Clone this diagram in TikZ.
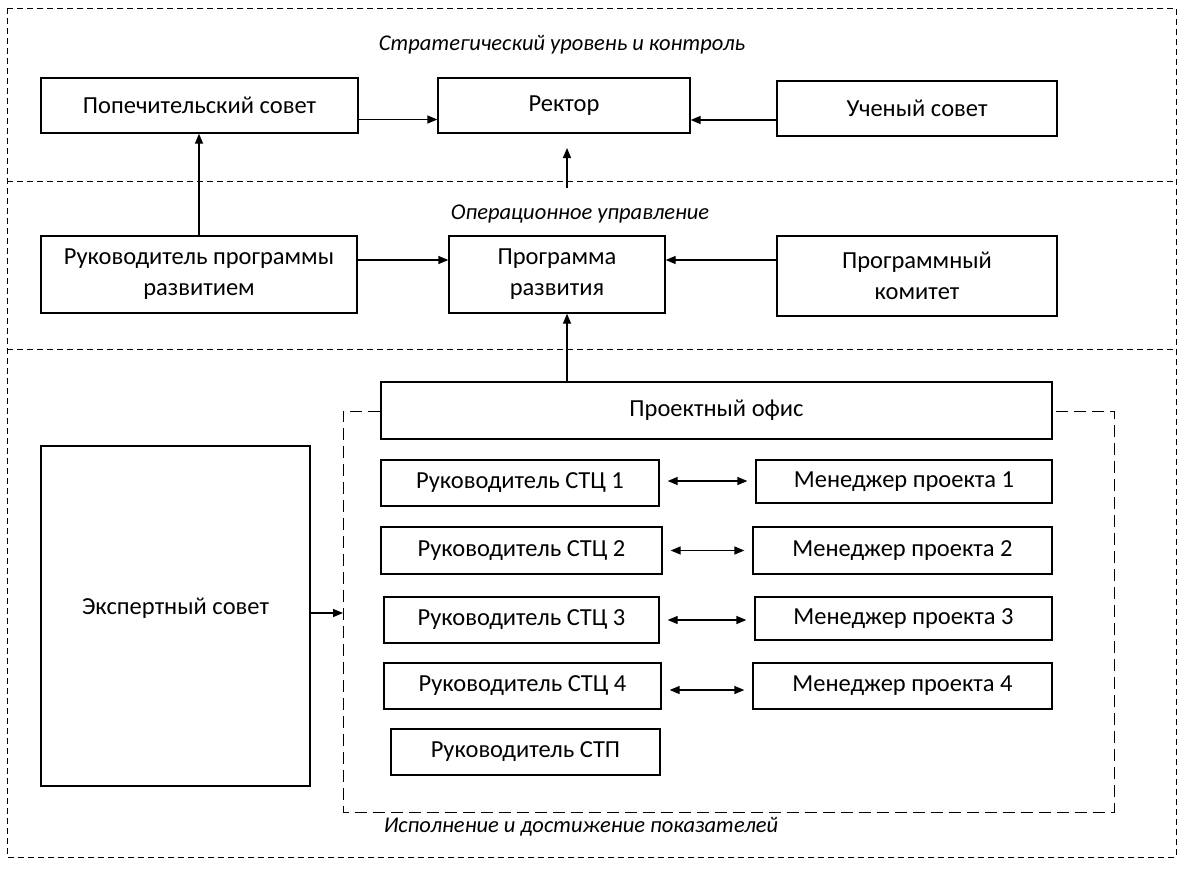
\documentclass[tikz,border=0pt]{standalone}
\usepackage{fontspec}
\setmainfont{Carlito}
\usetikzlibrary{arrows.meta,calc}
\begin{document}
\begin{tikzpicture}[x=1pt,y=-1pt,
  box/.style={draw=black,line width=1.3pt,rectangle,align=center,inner sep=2pt,
    font=\fontsize{24.5}{31}\selectfont},
  ttl/.style={font=\fontsize{22.5}{26}\selectfont\itshape},
  arr/.style={line width=1.3pt,-{Triangle[length=10pt,width=8pt]}},
  darr/.style={line width=1.3pt,{Triangle[length=10pt,width=8pt]}-{Triangle[length=10pt,width=8pt]}},
  sep/.style={line width=1pt,dash pattern=on 6pt off 4pt},
  inner/.style={line width=1pt,dash pattern=on 12pt off 6pt}]
\useasboundingbox (0,0) rectangle (1182,887);
% outer frame and separators
\draw[sep] (7,8) rectangle (1176,857);
\draw[sep] (7,181) -- (1176,181);
\draw[sep] (7,349) -- (1176,349);
% titles
\node[ttl] (t1) at (562,45) {Стратегический уровень и контроль};
\node[ttl] (t2) at (580,214) {Операционное управление};
\node[ttl] (t3) at (581,827) {Исполнение и достижение показателей};
% top level
\node[box,minimum width=317pt,minimum height=55pt] (pop) at (199.5,105.5) {Попечительский совет};
\node[box,minimum width=252pt,minimum height=55pt] (rek) at (564,105.5) {Ректор};
\node[box,minimum width=280pt,minimum height=55pt] (uch) at (917,108.5) {Ученый совет};
% operational level
\node[box,minimum width=316pt,minimum height=77pt] (rukp) at (199,274.5) {Руководитель программы\\развитием};
\node[box,minimum width=216pt,minimum height=77pt] (prog) at (557,274.5) {Программа\\развития};
\node[box,minimum width=280pt,minimum height=80pt] (kom) at (917,276) {Программный\\комитет};
% execution level
\node[box,minimum width=671pt,minimum height=57pt] (off) at (716.5,410.5) {Проектный офис};
\node[box,minimum width=269pt,minimum height=340pt] (exp) at (175.5,616) {Экспертный совет\\[-11pt]};
\node[box,minimum width=278pt,minimum height=46pt] (s1) at (520,483) {Руководитель СТЦ 1};
\node[box,minimum width=296pt,minimum height=43pt] (m1) at (904,481.5) {Менеджер проекта 1};
\node[box,minimum width=281pt,minimum height=47pt] (s2) at (521.5,550.5) {Руководитель СТЦ 2};
\node[box,minimum width=299pt,minimum height=47pt] (m2) at (902.5,550.5) {Менеджер проекта 2};
\node[box,minimum width=275pt,minimum height=46pt] (s3) at (521.5,620) {Руководитель СТЦ 3};
\node[box,minimum width=297pt,minimum height=43pt] (m3) at (903.5,618.5) {Менеджер проекта 3};
\node[box,minimum width=277pt,minimum height=46pt] (s4) at (522.5,686) {Руководитель СТЦ 4};
\node[box,minimum width=299pt,minimum height=46pt] (m4) at (902.5,686) {Менеджер проекта 4};
\node[box,minimum width=269pt,minimum height=46pt] (stp) at (525.5,752) {Руководитель СТП};
% inner dashed frame
\coordinate (ib) at (343,613);
\draw[inner] (off.west |- 0,411) -- (343,411) -- (343,812) -- (1114,812) -- (1114,411) -- (off.east |- 0,411);
% connectors
\coordinate (ax) at (567,0);
\coordinate (fa) at (567,188);
\coordinate (fb) at (567,148);
\draw[arr] ([yshift=-14pt]pop.east) -- ([yshift=-14pt]pop.east -| rek.west);
\draw[arr] ([yshift=-11.5pt]uch.west) -- ([yshift=-11.5pt]uch.west -| rek.east);
\draw[arr] (rukp.north) -- (rukp.north |- pop.south);
\draw[arr] (fa) -- (fb);
\draw[arr] ([yshift=14.5pt]rukp.east) -- ([yshift=14.5pt]rukp.east -| prog.west);
\draw[arr] ([yshift=16pt]kom.west) -- ([yshift=16pt]kom.west -| prog.east);
\draw[arr] (off.north -| ax) -- (prog.south -| ax);
\draw[arr] ([yshift=3pt]exp.east) -- (ib);
\draw[darr,shorten <=8pt,shorten >=8pt] ([yshift=2pt]s1.east) -- ([yshift=2pt]s1.east -| m1.west);
\draw[darr,shorten <=8pt,shorten >=8pt] (s2.east) -- (s2.east -| m2.west);
\draw[darr,shorten <=8pt,shorten >=8pt] (s3.east) -- (s3.east -| m3.west);
\draw[darr,shorten <=8pt,shorten >=8pt] ([yshift=-4pt]s4.east) -- ([yshift=-4pt]s4.east -| m4.west);
\end{tikzpicture}
\end{document}
